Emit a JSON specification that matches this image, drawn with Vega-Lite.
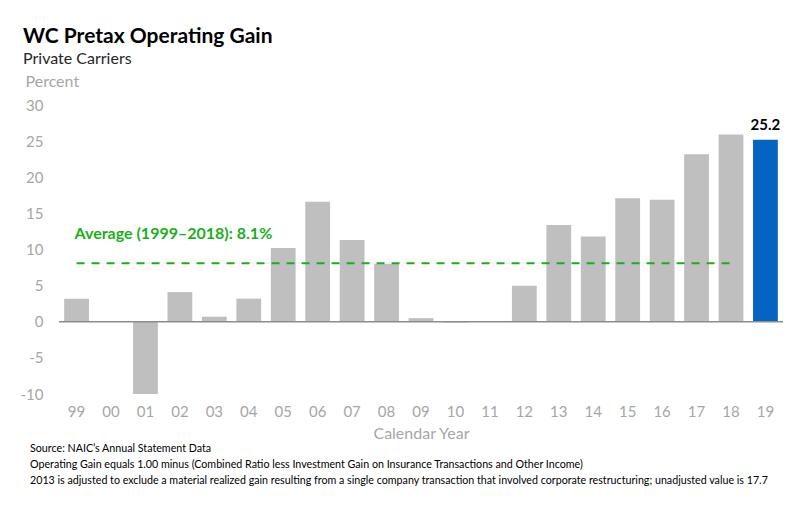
{
  "$schema": "https://vega.github.io/schema/vega-lite/v6.json",
  "background": "white",
  "padding": {"left": 20, "top": 26, "right": 5, "bottom": 5},
  "config": {
    "view": {"stroke": null},
    "font": "Lato",
    "axis": {"labelOverlap": false}
  },
  "title": {
    "text": [
      "Source: NAIC’s Annual Statement Data",
      "Operating Gain equals 1.00 minus (Combined Ratio less Investment Gain on Insurance Transactions and Other Income)",
      "\u00a0\u00a02013 is adjusted to exclude a material realized gain resulting from a single company transaction that involved corporate restructuring; unadjusted value is 17.7"
    ],
    "orient": "bottom",
    "anchor": "start",
    "font": "Lato",
    "fontSize": 10.7,
    "fontWeight": "normal",
    "color": "#000000",
    "lineHeight": 16,
    "offset": 3,
    "dx": 10
  },
  "vconcat": [
    {
      "width": 724,
      "height": 289,
      "title": {
        "text": "WC Pretax Operating Gain",
        "subtitle": "Private Carriers",
        "anchor": "start",
        "font": "Lato",
        "fontSize": 21,
        "fontWeight": "bold",
        "color": "#000000",
        "subtitleFont": "Lato",
        "subtitleFontSize": 16,
        "subtitleColor": "#262626",
        "subtitlePadding": 4,
        "offset": 6,
        "dx": 3
      },
      "data": {
        "values": [
          {"year": "99", "value": 3.2},
          {"year": "00", "value": 0.1},
          {"year": "01", "value": -10.0},
          {"year": "02", "value": 4.1},
          {"year": "03", "value": 0.7},
          {"year": "04", "value": 3.2},
          {"year": "05", "value": 10.2},
          {"year": "06", "value": 16.6},
          {"year": "07", "value": 11.3},
          {"year": "08", "value": 8.0},
          {"year": "09", "value": 0.5},
          {"year": "10", "value": -0.1},
          {"year": "11", "value": 0.0},
          {"year": "12", "value": 5.0},
          {"year": "13", "value": 13.4},
          {"year": "14", "value": 11.8},
          {"year": "15", "value": 17.1},
          {"year": "16", "value": 16.9},
          {"year": "17", "value": 23.2},
          {"year": "18", "value": 25.9},
          {"year": "19", "value": 25.2}
        ]
      },
      "encoding": {
        "x": {
          "field": "year",
          "type": "nominal",
          "sort": null,
          "scale": {
            "domain": ["99","00","01","02","03","04","05","06","07","08","09","10","11","12","13","14","15","16","17","18","19"],
            "paddingInner": 0.28,
            "paddingOuter": 0.15
          },
          "axis": {
            "title": "Calendar Year",
            "domain": false,
            "ticks": false,
            "labelAngle": 0,
            "labelFont": "Lato",
            "labelFontSize": 15,
            "labelColor": "#a6a6a6",
            "labelPadding": 10,
            "titleFont": "Lato",
            "titleFontSize": 16,
            "titleFontWeight": "normal",
            "titleColor": "#a6a6a6",
            "titlePadding": 6
          }
        },
        "y": {
          "field": "value",
          "type": "quantitative",
          "scale": {"domain": [-10, 30], "nice": false},
          "axis": {
            "title": "Percent",
            "values": [-10, -5, 0, 5, 10, 15, 20, 25, 30],
            "labelExpr": "datum.value < 0 ? '-' + abs(datum.value) : '' + datum.value",
            "labelOverlap": false,
            "domain": false,
            "ticks": false,
            "grid": false,
            "labelFont": "Lato",
            "labelFontSize": 15,
            "labelColor": "#a6a6a6",
            "labelPadding": 16,
            "titleAngle": 0,
            "titleAlign": "left",
            "titleBaseline": "middle",
            "titleX": -34,
            "titleY": -24,
            "titleFont": "Lato",
            "titleFontSize": 16,
            "titleFontWeight": "normal",
            "titleColor": "#a6a6a6"
          }
        }
      },
      "layer": [
        {
          "mark": {"type": "bar"},
          "encoding": {
            "color": {
              "condition": {"test": "datum.year === '19'", "value": "#0563c1"},
              "value": "#bfbfbf"
            }
          }
        },
        {
          "data": {"values": [{"value": 0}]},
          "mark": {"type": "rule", "color": "#8c8c8c", "strokeWidth": 1.5},
          "encoding": {"x": null}
        },
        {
          "data": {"values": [{"year": "99", "year2": "18", "value": 8.1}]},
          "mark": {"type": "rule", "color": "#1aaf1a", "strokeWidth": 2, "strokeDash": [8, 7]},
          "encoding": {
            "x2": {"field": "year2"}
          }
        },
        {
          "data": {"values": [{"year": "99", "value": 8.1, "label": "Average (1999–2018): 8.1%"}]},
          "mark": {"type": "text", "color": "#1aaf1a", "font": "Lato", "fontSize": 16, "fontWeight": "bold", "align": "left", "baseline": "middle", "dx": -2, "dy": -29},
          "encoding": {
            "text": {"field": "label"}
          }
        },
        {
          "transform": [{"filter": "datum.year === '19'"}],
          "mark": {"type": "text", "color": "#000000", "font": "Lato", "fontSize": 15, "fontWeight": "bold", "baseline": "bottom", "dy": -7},
          "encoding": {
            "text": {"field": "value", "type": "quantitative", "format": ".1f"}
          }
        }
      ]
    }
  ]
}
